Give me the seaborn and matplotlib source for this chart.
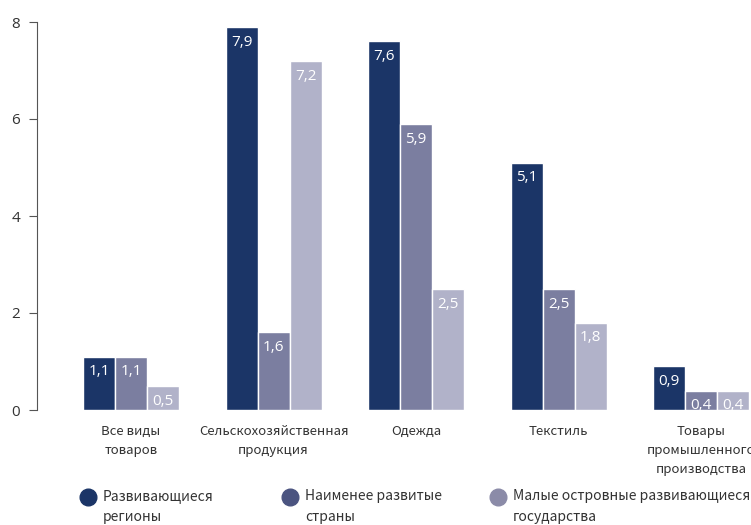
import pandas as pd
import numpy as np
import seaborn as sns
import matplotlib.pyplot as plt
from matplotlib.lines import Line2D

# data (per cent)
categories = ['Все виды\nтоваров', 'Сельскохозяйственная\nпродукция', 'Одежда',
              'Текстиль', 'Товары\nпромышленного\nпроизводства']
groups = ['Развивающиеся\nрегионы', 'Наименее развитые\nстраны',
          'Малые островные развивающиеся\nгосударства']
developing = [1.1, 7.9, 7.6, 5.1, 0.9]
least_developed = [1.1, 1.6, 5.9, 2.5, 0.4]
small_islands = [0.5, 7.2, 2.5, 1.8, 0.4]

bar_colors = ['#1b3567', '#7b7ea0', '#b1b2c9']
legend_colors = ['#1b3567', '#4b5480', '#8b8ba8']
text_color = '#333333'

df = pd.DataFrame({'category': categories * 3,
                   'group': [groups[0]] * 5 + [groups[1]] * 5 + [groups[2]] * 5,
                   'value': developing + least_developed + small_islands})

sns.set_style('white')
plt.rcParams['font.family'] = ['Noto Sans CJK SC', 'DejaVu Sans']

fig = plt.figure(figsize=(7.51, 5.25), dpi=100)
ax = fig.add_axes([37/751, 115/525, (751-37)/751, 388/525])

sns.barplot(data=df, x='category', y='value', hue='group', palette=bar_colors,
            width=0.674, saturation=1, legend=False, ax=ax)

# value labels inside bars, near the top
for cont in ax.containers:
    for bar in cont:
        h = bar.get_height()
        ax.annotate(f'{h:.1f}'.replace('.', ','),
                    (bar.get_x() + bar.get_width()/2, h),
                    xytext=(0, -11), textcoords='offset points',
                    ha='center', va='center', color='white', fontsize=11,
                    family=['Open Sans', 'DejaVu Sans'])

ax.set_ylim(0, 8)
ax.set_xlim(-0.66, 4.35)
ax.set_yticks([0, 2, 4, 6, 8])
ax.set_xlabel('')
ax.set_ylabel('')
for s in ['top', 'right', 'bottom']:
    ax.spines[s].set_visible(False)
ax.spines['left'].set_color('#555555')
ax.tick_params(axis='y', length=6, color='#555555', labelcolor=text_color,
               labelsize=11, pad=6, left=True)
for lbl in ax.get_yticklabels():
    lbl.set_family(['Open Sans', 'DejaVu Sans'])
ax.tick_params(axis='x', length=0, pad=11, labelsize=9.5, labelcolor=text_color)
for lbl in ax.get_xticklabels():
    lbl.set_linespacing(1.6)

# legend at bottom, marker aligned with first line of each label
legend_x = [88, 290, 498]
for i, g in enumerate(groups):
    fig.add_artist(Line2D([legend_x[i]/751], [1 - 497/525], marker='o',
                          markersize=12, color=legend_colors[i], linestyle='none',
                          transform=fig.transFigure))
    fig.text((legend_x[i] + 15)/751, 1 - 489/525, g, ha='left', va='top',
             fontsize=10, color=text_color, linespacing=1.6)

# units line, mostly cut off at the top edge
fig.text(12/751, 1 + 5/525, '(в процентах)', ha='left', va='baseline',
         fontsize=12, color=text_color, fontweight='bold')

fig.savefig('out.png', dpi=100)
